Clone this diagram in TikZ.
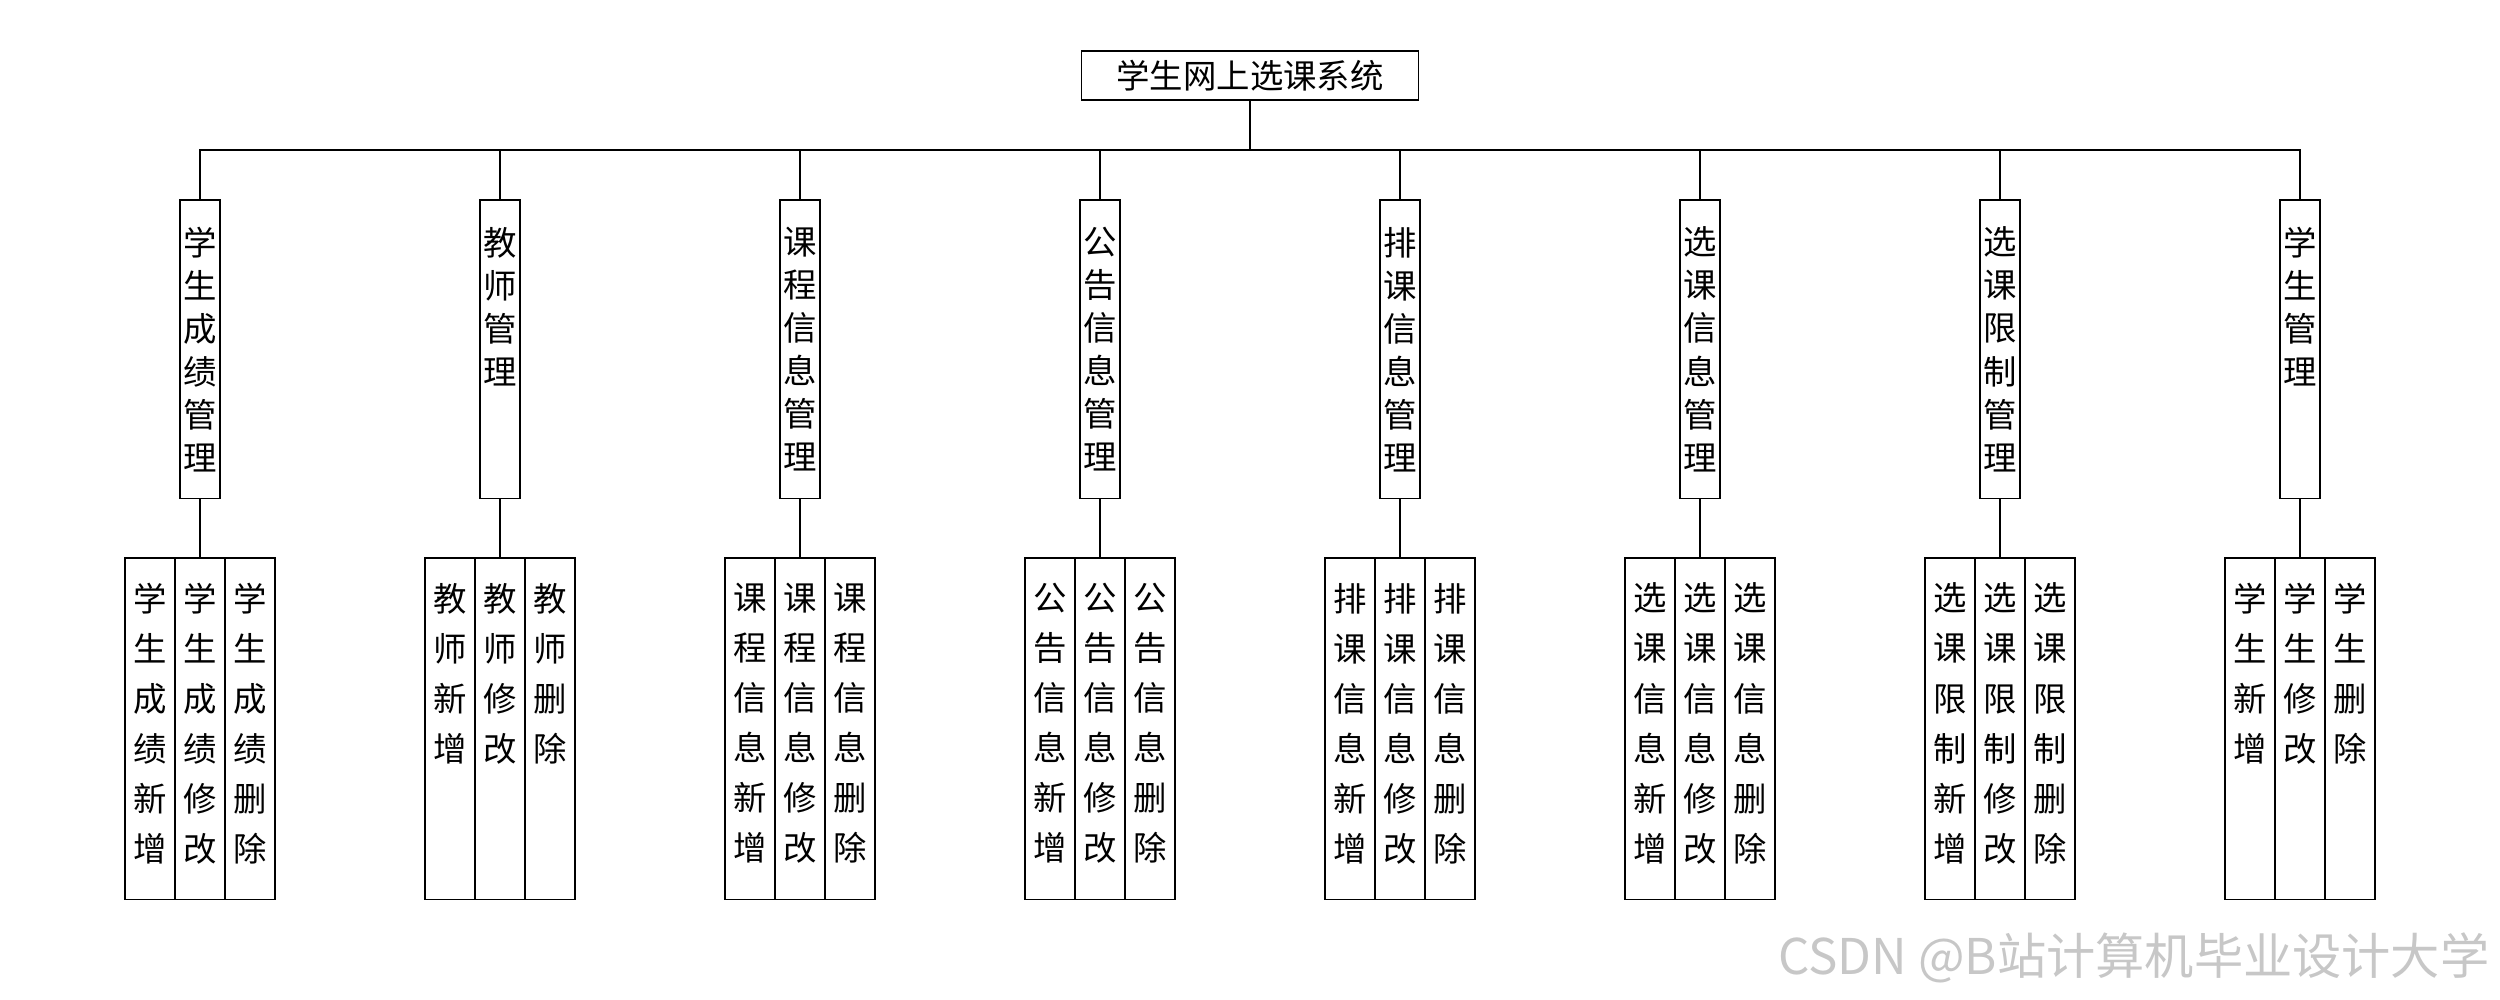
\documentclass[tikz,border=0pt]{standalone}
\usepackage{fontspec}
\setmainfont{Noto Sans CJK SC}
\usetikzlibrary{positioning}

% stack the characters of a label one under another
\makeatletter
\newcommand\vstackloop[1]{\@tfor\vtk:=#1\do{\vtk\endgraf}}
\newcommand\vstack[5]{% height, width, top gap, pitch, characters
  \edef\vtmp{#5}%
  \parbox[t][#1][t]{#2}{\centering\fontsize{9.5pt}{#4}\selectfont
    \vspace*{#3}\expandafter\vstackloop\expandafter{\vtmp}}}
\makeatother

\tikzset{
  topbox/.style={draw, inner sep=0pt, outer sep=0pt, minimum width=3.37cm,
                 minimum height=0.49cm, font=\fontsize{9.5pt}{11pt}\selectfont},
  modbox/.style={draw, inner sep=0pt, outer sep=0pt, anchor=north},
  leafbox/.style={draw, inner sep=0pt, outer sep=0pt, anchor=north},
}

\begin{document}
\begin{tikzpicture}[x=0.01cm, y=-0.01cm, line width=0.35pt]
  \useasboundingbox (0,0) rectangle (2500,1000);

  \node[topbox] (sys) at (1250,75.5) {学生网上选课系统};

  \foreach \name/\lbl [count=\i from 0] in
    {cj/学生成绩, js/教师, kc/课程信息, gg/公告信息,
     pk/排课信息, xk/选课信息, xz/选课限制, xs/学生}{
    % module box
    \node[modbox] (\name) at ({200+300*\i},200)
      {\vstack{2.98cm}{0.4cm}{0.27cm}{0.43cm}{\lbl 管理}};
    \draw (sys.south) -- ++(0,50) -| (\name.north);
    % three operation boxes
    \node[leafbox] (\name-b) at ({200+300*\i},558)
      {\vstack{3.41cm}{0.5cm}{0.25cm}{0.5cm}{\lbl 修改}};
    \node[leafbox, left=0pt of \name-b]  (\name-a)
      {\vstack{3.41cm}{0.5cm}{0.25cm}{0.5cm}{\lbl 新增}};
    \node[leafbox, right=0pt of \name-b] (\name-c)
      {\vstack{3.41cm}{0.5cm}{0.25cm}{0.5cm}{\lbl 删除}};
    \draw (\name.south) -- (\name-b.north);
  }

  \node[anchor=east, inner sep=0pt, text=black!22,
        font=\fontsize{14pt}{16pt}\selectfont]
    (wm) at (2490,958) {CSDN @B站计算机毕业设计大学};
\end{tikzpicture}
\end{document}
